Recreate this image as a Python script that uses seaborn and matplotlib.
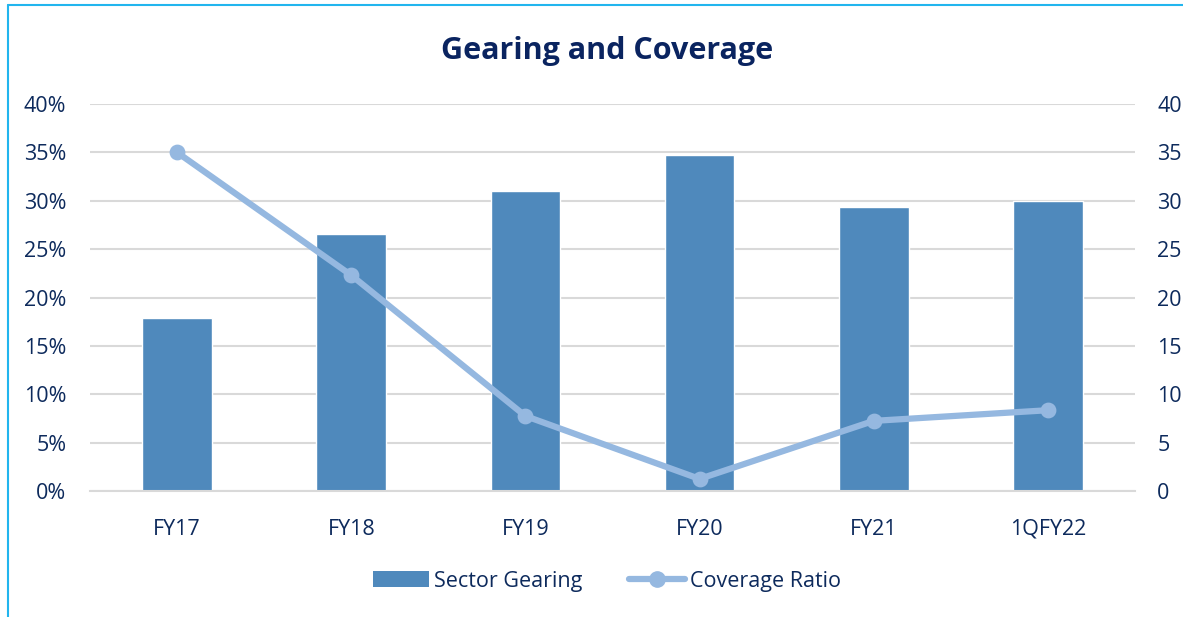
import matplotlib
matplotlib.use("Agg")
import matplotlib.pyplot as plt
import seaborn as sns
import pandas as pd
from matplotlib.patches import Patch
from matplotlib.lines import Line2D

categories = ["FY17", "FY18", "FY19", "FY20", "FY21", "1QFY22"]
sector_gearing = [17.9, 26.6, 31.0, 34.7, 29.35, 29.95]
coverage_ratio = [35.0, 22.3, 7.75, 1.25, 7.25, 8.35]
left_ticks = [0, 5, 10, 15, 20, 25, 30, 35, 40]

BAR = "#4F89BC"
LINE = "#95B8E0"
TXT = "#0D2A5C"
GRID = "#D9D9D9"
FS = 15.5

sns.set_theme(style="white")
plt.rcParams['font.family'] = ['Open Sans', 'DejaVu Sans']

df = pd.DataFrame({"cat": categories, "gear": sector_gearing, "cov": coverage_ratio})

fig = plt.figure(figsize=(11.83, 6.17), dpi=100)
ax = fig.add_axes([0.0761, 0.2042, 0.8833, 0.6272])
sns.barplot(data=df, x="cat", y="gear", color=BAR, width=0.4, saturation=1, ax=ax, zorder=2)
ax.set_ylim(0, 40)
ax.set_xlim(-0.5, 5.5)
ax.set_yticks(left_ticks)
ax.set_yticklabels([f"{t}%" for t in left_ticks])
ax.yaxis.grid(True, color=GRID, linewidth=1.5, zorder=0)
ax.set_axisbelow(True)
for s in ["top", "right", "left"]:
    ax.spines[s].set_visible(False)
ax.spines["bottom"].set_color(GRID)
ax.spines["bottom"].set_linewidth(1.5)
ax.set_xlabel("")
ax.set_ylabel("")
ax.tick_params(axis="both", length=0, labelsize=FS, labelcolor=TXT)
ax.tick_params(axis="x", pad=20)
ax.tick_params(axis="y", pad=17)

ax2 = ax.twinx()
sns.pointplot(data=df, x="cat", y="cov", color=LINE, markers="o", linestyles="-",
              markersize=8, linewidth=4.5, ax=ax2, errorbar=None)
ax2.set_ylim(0, 40)
ax2.set_xlim(-0.5, 5.5)
ax2.set_yticks(left_ticks)
ax2.set_yticklabels([str(t) for t in left_ticks])
for s in ["top", "right", "left", "bottom"]:
    ax2.spines[s].set_visible(False)
ax2.set_ylabel("")
ax2.set_xlabel("")
ax2.tick_params(axis="y", length=0, labelsize=FS, labelcolor=TXT, pad=16)
ax2.grid(False)

fig.text(0.513, 0.918, "Gearing and Coverage", ha="center", va="center",
         fontsize=22, fontweight="bold", color="#0A2460")

handles = [Patch(facecolor=BAR, edgecolor="none"),
           Line2D([0], [0], color=LINE, lw=4.5, marker="o", markersize=11)]
fig.legend(handles, ["Sector Gearing", "Coverage Ratio"], loc="center",
           bbox_to_anchor=(0.513, 0.058), ncol=2, frameon=False, fontsize=FS,
           labelcolor=TXT, handlelength=2.6, handleheight=0.8, columnspacing=2.2,
           handletextpad=0.2)

# frame lines (top and left)
fig.add_artist(Line2D([8/1183, 8/1183], [0, 1 - 5/617], color="#22B5EE", lw=1.5,
                      transform=fig.transFigure))
fig.add_artist(Line2D([8/1183, 1], [1 - 5/617, 1 - 5/617], color="#22B5EE", lw=1.5,
                      transform=fig.transFigure))

fig.savefig("out.png", dpi=100)
